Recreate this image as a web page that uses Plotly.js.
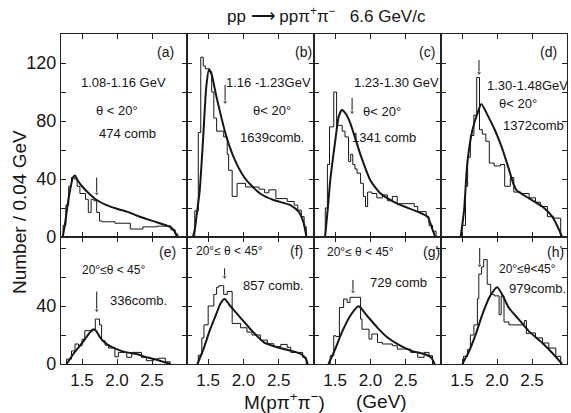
<!DOCTYPE html>
<html><head><meta charset="utf-8">
<script src="https://cdn.plot.ly/plotly-3.0.1.min.js"></script>
<style>html,body{margin:0;padding:0;background:#fff}#chart{width:571px;height:413px}</style>
</head><body><div id="chart"></div>
<script>
// ---- data: histogram step edges (GeV) and counts per 0.04 GeV; fitted curves ----
const histEdgesA = [1.23,1.27,1.31,1.35,1.39,1.43,1.47,1.55,1.59,1.63,1.67,1.71,1.75,1.79,1.97,2.19,2.37,2.57,2.77,2.83,2.87];
const histCountsA = [8,22,35,41,40,35,30,26,17,26,25,17,11,10.5,9.5,5.5,7,7.5,5,2];
const curveMA = [1.225,1.26,1.30,1.34,1.37,1.40,1.44,1.50,1.60,1.71,1.85,2.0,2.14,2.3,2.45,2.61,2.76,2.82,2.86];
const curveNA = [0,10,24,35,41,42.5,39,35,30,25.5,22,19.5,17.5,14.5,12,9.5,7,4,0];

const histEdgesB = [1.31,1.36,1.395,1.43,1.46,1.52,1.55,1.58,1.62,1.72,1.77,1.79,1.84,1.91,2.03,2.22,2.30,2.36,2.46,2.62,2.72,2.77,2.82,2.86,2.89];
const histCountsB = [18,72,124,118,116,114,100,82,73,69,57,46,28,37,34.5,33,30.5,32.5,26.5,24.5,22,18.5,14,7];
const curveMB = [1.283,1.31,1.33,1.38,1.426,1.474,1.512,1.55,1.617,1.76,1.90,2.045,2.236,2.426,2.664,2.783,2.855,2.893];
const curveNB = [0,5,12.6,32,66,104,115.6,112,96.8,69,50.8,39,30,25.5,22,17.5,9.4,0];

const histEdgesC = [1.36,1.39,1.42,1.48,1.52,1.60,1.64,1.69,1.72,1.75,1.78,1.81,1.86,1.90,1.93,1.96,2.02,2.09,2.17,2.24,2.31,2.38,2.62,2.67,2.79,2.83,2.88,2.93];
const histCountsC = [20,50,76,100,77,73,69,52,57,50,47,44,37,28,21,31,30,27,29,25,28,23,21,17.5,14,8,4];
const curveMC = [1.357,1.40,1.43,1.50,1.55,1.595,1.65,1.714,1.857,2.0,2.143,2.38,2.667,2.81,2.88,2.92];
const curveNC = [0,22,39,66,83,87.6,85,78.6,57,39,30,23,17.5,14,5,0];

const histEdgesD = [1.50,1.55,1.58,1.62,1.67,1.71,1.75,1.79,1.84,1.89,1.96,2.05,2.11,2.19,2.24,2.34,2.46,2.55,2.62,2.72,2.81,2.91];
const histCountsD = [8,35,55,70,84,110,74,71,66,51,49,50,35,41,31,30,27,24,21,14,13];
const curveMD = [1.481,1.53,1.576,1.648,1.719,1.776,1.876,1.971,2.067,2.162,2.233,2.281,2.457,2.648,2.79,2.886,2.93];
const curveND = [0,18.6,51,73.6,85,91.7,83,73.6,62,48,36.8,32.2,26.7,21,14,5,0];

const histEdgesE = [1.28,1.35,1.40,1.45,1.50,1.54,1.64,1.69,1.75,1.78,1.83,1.88,1.97,2.02,2.14,2.21,2.35,2.42,2.52,2.59,2.69,2.76];
const histCountsE = [3.4,9,13.8,12.6,17,23,24,31,27,16,13,11,5,8,4.6,8,4.6,2.3,3.4,4,1.5];
const curveME = [1.28,1.376,1.471,1.543,1.614,1.662,1.70,1.757,1.852,1.995,2.138,2.28,2.424,2.614,2.757];
const curveNE = [0,6.9,12.6,17.2,21.8,23.7,23,18.4,13.8,10.3,8,6.9,4.6,2.3,0];

const histEdgesF = [1.36,1.41,1.44,1.50,1.58,1.62,1.65,1.72,1.77,1.84,1.96,2.05,2.12,2.24,2.34,2.43,2.53,2.62,2.67,2.84,2.89];
const histCountsF = [6,18,27,40,48,53,54,48,50,28,25,22,20,16.5,14,12,13.5,11.5,8,4.6];
const curveMF = [1.348,1.433,1.529,1.624,1.671,1.733,1.814,1.957,2.1,2.29,2.48,2.67,2.814,2.886,2.91];
const curveNF = [0,10.3,24,35.6,41.4,44.8,40,32,24,14.9,11.5,9.2,6.9,3.4,0];

const histEdgesG = [1.43,1.48,1.51,1.56,1.62,1.67,1.71,1.79,1.86,1.88,1.98,2.02,2.10,2.17,2.31,2.38,2.57,2.67,2.76,2.83,2.88];
const histCountsG = [5.7,19.5,19,39,44.8,42.5,46,46,31,24,17.2,20.7,14.9,13.8,12.6,10.3,8,4.6,8,5.7];
const curveMG = [1.405,1.5,1.595,1.714,1.833,1.952,2.095,2.238,2.38,2.571,2.762,2.857,2.91];
const curveNG = [0,10.3,21.8,33.3,39.8,33.3,25.3,18.4,13.8,9.2,6.9,4.6,0];

const histEdgesH = [1.52,1.58,1.62,1.67,1.72,1.74,1.78,1.81,1.86,1.91,1.96,2.0,2.03,2.06,2.10,2.17,2.39,2.42,2.46,2.55,2.65,2.74,2.84,2.91];
const histCountsH = [5.3,10,20,27,45,62,67,72,55,48,47,47,34,47,29,27,30,21,21.4,18,14.5,11,5.3];
const curveMH = [1.505,1.6,1.695,1.79,1.886,1.957,2.005,2.076,2.171,2.314,2.457,2.648,2.79,2.93];
const curveNH = [0,8.7,20.2,34,45.5,51,52.9,47.8,38.6,30.6,22.5,14.5,7.6,0];

// arrow markers: [mass, tip count, tail count]
const arrowsMarks = [[1.71,30,41],[1.74,93,105],[1.74,86,96],[1.743,113,122],[1.71,37,50],[1.733,60,66],[1.752,50,58],[1.753,68,80]];

const panelLetters = ['a','b','c','d','e','f','g','h'];
const massBins = ['1.08-1.16 GeV','1.16 -1.23GeV','1.23-1.30 GeV','1.30-1.48GeV'];
const angleLabels = ['θ < 20°','θ< 20°','θ< 20°','θ< 20°','20°≤θ < 45°','20°≤ θ < 45°','20°≤ θ < 45°','20°≤θ<45°'];
const combLabels = ['474 comb','1639comb.','1341 comb','1372comb','336comb.','857 comb.','729 comb','979comb.'];
const xTickVals = [1.5,2.0,2.5];
const xTickText = ['1.5','2.0','2.5'];
const yTickTop = [0,40,80,120];
const yMinorTop = [20,60,100,140];
const yTickBot = [0,40];
const yMinorBot = [20,60,80];

// ---- layout helpers ----
const W=571,H=413,L=61,R=4,T=34,B=49;
const PW=W-L-R, PH=H-T-B;
function P(px,py){return {x:(px-L)/PW, y:(H-B-py)/PH};}
const colEdges=[61,187,314,441,567].map(v=>(v-L)/PW);
const rowSplit=(H-B-237)/PH;

const hists=[[histEdgesA,histCountsA],[histEdgesB,histCountsB],[histEdgesC,histCountsC],[histEdgesD,histCountsD],
             [histEdgesE,histCountsE],[histEdgesF,histCountsF],[histEdgesG,histCountsG],[histEdgesH,histCountsH]];
const curves=[[curveMA,curveNA],[curveMB,curveNB],[curveMC,curveNC],[curveMD,curveND],
              [curveME,curveNE],[curveMF,curveNF],[curveMG,curveNG],[curveMH,curveNH]];

const ink='#161616';
const data=[]; const layout={
  width:W,height:H,margin:{l:L,r:R,t:T,b:B},paper_bgcolor:'#fff',plot_bgcolor:'#fff',
  showlegend:false,font:{family:'Liberation Sans, Arial, sans-serif',color:ink},annotations:[]
};
for(let i=0;i<8;i++){
  const n=i+1, sx=n===1?'':String(n);
  const xa='x'+sx, ya='y'+sx;
  const [edges,counts]=hists[i];
  const hx=[edges[0],...edges], hy=[0,...counts,0];
  data.push({x:hx,y:hy,xaxis:xa,yaxis:ya,type:'scatter',mode:'lines',line:{shape:'hv',color:ink,width:1},hoverinfo:'skip'});
  const [cm,cn]=curves[i];
  data.push({x:cm,y:cn,xaxis:xa,yaxis:ya,type:'scatter',mode:'lines',line:{shape:'spline',smoothing:0.55,color:ink,width:2},hoverinfo:'skip'});
  const am=arrowsMarks[i];
  data.push({x:[am[0],am[0]],y:[am[2],am[1]],xaxis:xa,yaxis:ya,type:'scatter',mode:'lines+markers',
    line:{color:ink,width:1},marker:{symbol:'triangle-down',size:[0,5],color:ink},hoverinfo:'skip'});
  const col=i%4, top=i<4;
  layout['xaxis'+sx]={domain:[colEdges[col],colEdges[col+1]],anchor:ya,range:[1.2,3.0],
    showline:true,mirror:'ticks',linecolor:'#222',linewidth:1.2,showgrid:false,zeroline:false,
    ticks:'inside',ticklen:5,tickcolor:'#222',tickvals:xTickVals,ticktext:xTickText,
    showticklabels:!top,tickfont:{size:17,color:ink}};
  layout['yaxis'+sx]={domain:top?[rowSplit,1]:[0,rowSplit],anchor:xa,range:top?[0,140]:[0,87.6],
    showline:true,mirror:'ticks',linecolor:'#222',linewidth:1.2,showgrid:false,zeroline:false,
    ticks:'inside',ticklen:5,tickcolor:'#222',tickmode:'array',tickvals:top?yTickTop:yTickBot,
    minor:{ticks:'inside',ticklen:5,tickcolor:'#222',tickmode:'array',tickvals:top?yMinorTop:yMinorBot,showgrid:false},
    showticklabels:col===0,tickfont:{size:18,color:ink}};
}
const txt=(t,px,py,size)=>{const p=P(px,py);layout.annotations.push({xref:'paper',yref:'paper',x:p.x,y:p.y,text:t,showarrow:false,xanchor:'center',yanchor:'middle',font:{size:size||13,color:ink}});};
// panel letters
[[165,52],[303,52],[427,52],[548,52],[167,252],[296,251],[431,252],[555,252]].forEach((q,i)=>txt('('+panelLetters[i]+')',q[0],q[1],14));
[[123,83],[268,83],[396,83],[527,85]].forEach((q,i)=>txt(massBins[i],q[0],q[1],13));
[[117,110],[272,110],[382,112],[518,103],[113,270],[229,251],[360,252],[527,269]].forEach((q,i)=>txt(angleLabels[i],q[0],q[1],i<4?13:12));
[[127,133],[272,137],[384,137],[533,125],[138,300],[273,285],[398,282],[537,288]].forEach((q,i)=>txt(combLabels[i],q[0],q[1],13));
// titles
txt('pp ⟶ ppπ<sup>+</sup>π<sup>−</sup>\u00a0\u00a0\u00a06.6 GeV/c',326,15,17);
txt('M(pπ<sup>+</sup>π<sup>−</sup>)',284,401,19);
txt('(GeV)',381,401,19);
{const p=P(20,212);layout.annotations.push({xref:'paper',yref:'paper',x:p.x,y:p.y,text:'Number / 0.04 GeV',textangle:-90,showarrow:false,xanchor:'center',yanchor:'middle',font:{size:19,color:ink}});}

Plotly.newPlot('chart',data,layout,{staticPlot:true,displayModeBar:false});
</script></body></html>
